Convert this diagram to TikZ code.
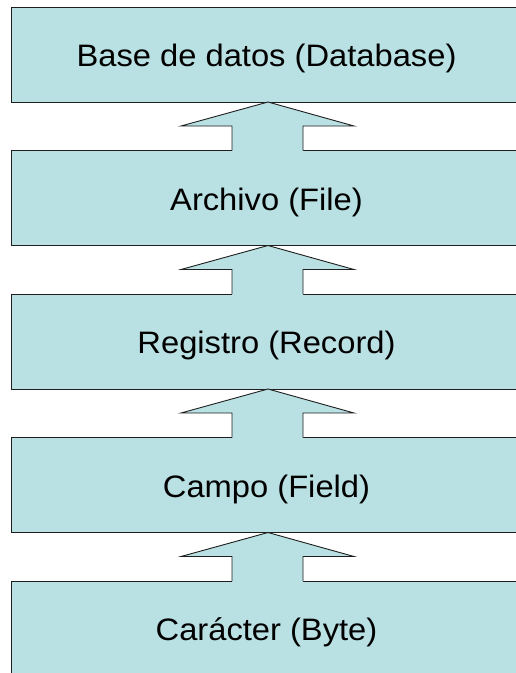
\documentclass[tikz,border=0pt]{standalone}
\usepackage{fontspec}
\setmainfont[FakeStretch=1.055]{Liberation Sans}
\usepackage{tikz}
\usetikzlibrary{positioning}
\usepackage{xcolor}
\definecolor{dbteal}{RGB}{185,224,226}
\definecolor{dbline}{RGB}{30,30,30}
\tikzstyle{level} = [rectangle, draw=dbline, fill=dbteal, line width=0.9pt, minimum width=511pt, minimum height=95pt, inner sep=0pt, outer sep=0pt, text height=24pt, text depth=0pt, font=\fontsize{31}{36}\selectfont]
\tikzstyle{uparrow} = [draw=dbline, line width=0.9pt, line join=miter]

\begin{document}
\begin{tikzpicture}[x=1pt, y=-1pt]
\useasboundingbox (0,0) rectangle (515,673);

% Levels of the hierarchy, from the top down
\node (database) [level] at (266.5,54.5) {Base de datos (Database)};
\node (file) [level, below=48.5pt of database] {Archivo (File)};
\node (record) [level, below=48.5pt of file] {Registro (Record)};
\node (field) [level, below=48.5pt of record] {Campo (Field)};
\node (byte) [level, below=48.5pt of field] {Carácter (Byte)};

% Block arrows going up from each level to the next
\foreach \lo/\up in {file/database, record/file, field/record, byte/field} {
  \fill[dbteal] ([xshift=-34.5pt, yshift=-1.5pt]\lo.north) -- ([xshift=-34.5pt, yshift=-24pt]\up.south)
    -- ([xshift=-85.5pt, yshift=-24pt]\up.south) -- ([xshift=1.5pt]\up.south)
    -- ([xshift=87.5pt, yshift=-24pt]\up.south) -- ([xshift=36.5pt, yshift=-24pt]\up.south)
    -- ([xshift=36.5pt, yshift=-1.5pt]\lo.north) -- cycle;
  \draw[uparrow] ([xshift=-34.5pt]\lo.north) -- ([xshift=-34.5pt, yshift=-24pt]\up.south)
    -- ([xshift=-85.5pt, yshift=-24pt]\up.south) -- ([xshift=1.5pt]\up.south)
    -- ([xshift=87.5pt, yshift=-24pt]\up.south) -- ([xshift=36.5pt, yshift=-24pt]\up.south)
    -- ([xshift=36.5pt]\lo.north);
}

\end{tikzpicture}
\end{document}
